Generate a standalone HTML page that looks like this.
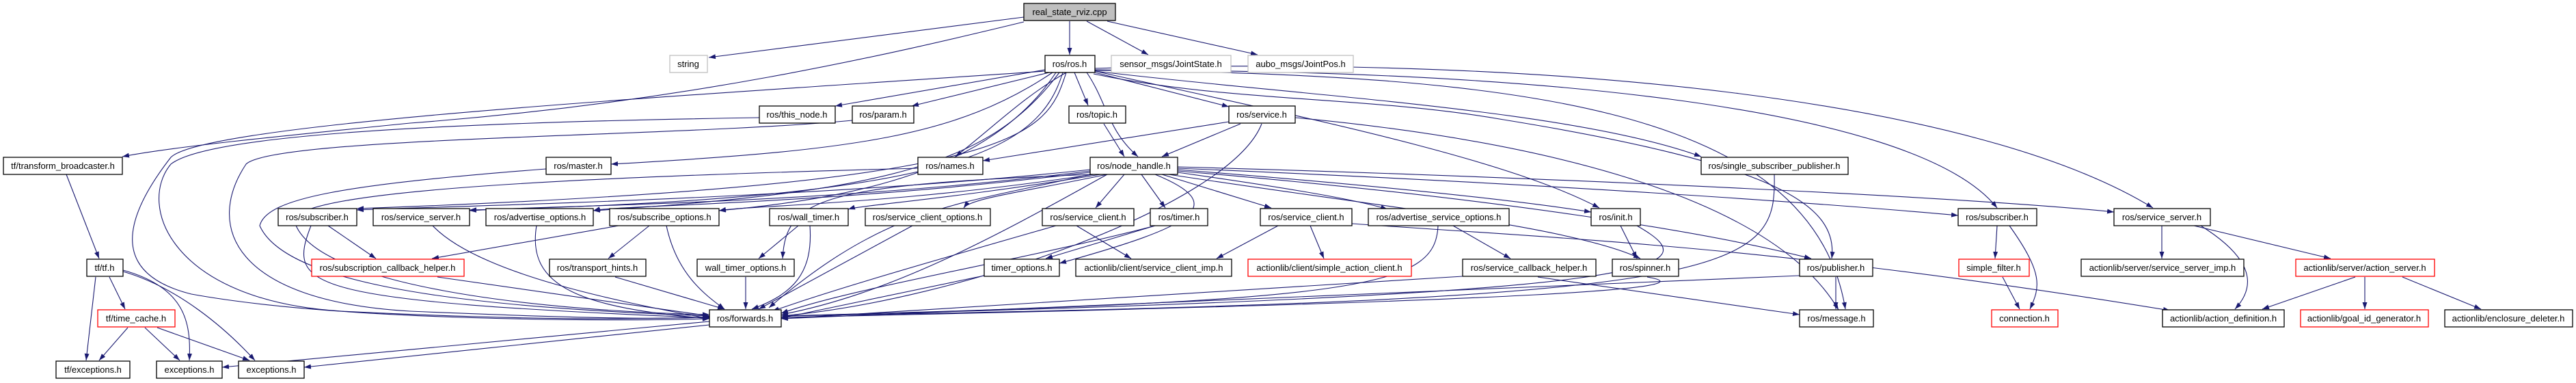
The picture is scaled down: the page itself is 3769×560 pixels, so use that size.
<!DOCTYPE html>
<html><head><meta charset="utf-8"><style>
html,body{margin:0;padding:0;background:#fff;}
svg{display:block;}
text{font-family:"Liberation Sans",Arial,sans-serif;font-size:13px;fill:#000;text-anchor:middle;}
.n{fill:#fff;stroke:#000;stroke-width:1.3;}
.g{fill:#fff;stroke:#bfbfbf;stroke-width:1.3;}
.r{fill:#fff;stroke:#ff0000;stroke-width:1.3;}
.e path,.e line{fill:none;stroke:#191970;stroke-width:1.1;marker-end:url(#a);}
</style></head><body>
<svg width="3769" height="560" viewBox="0 0 3769 560" xmlns="http://www.w3.org/2000/svg">
<defs><marker id="a" markerUnits="userSpaceOnUse" markerWidth="11" markerHeight="8" refX="10" refY="3.5" orient="auto"><path d="M0,0 L10,3.5 L0,7 z" fill="#191970"/></marker></defs>
<g class="e">
<!-- real_state -->
<line x1="1498" y1="25" x2="1037" y2="84"/>
<line x1="1565" y1="31" x2="1565" y2="80"/>
<line x1="1590" y1="31" x2="1680" y2="80"/>
<line x1="1620" y1="31" x2="1840" y2="80"/>
<path d="M1498,32 C1300,80 1000,150 600,180 C400,200 250,215 179,229"/>
<!-- ros.h -->
<line x1="1529" y1="102" x2="1222" y2="155"/>
<line x1="1535" y1="106" x2="1334" y2="155"/>
<line x1="1572" y1="106" x2="1592" y2="154"/>
<line x1="1602" y1="106" x2="1798" y2="156"/>
<path d="M1560,106 C1500,140 1460,180 1398,229"/>
<path d="M1590,106 C1620,150 1620,190 1665,229"/>
<path d="M1602,104 C1900,140 2300,160 2489,229"/>
<path d="M1600,108 C1800,150 2000,140 2200,175 C2600,240 2690,300 2680,378"/>
<path d="M1602,102 C2200,110 2650,150 2700,452"/>
<path d="M1602,103 C2200,100 2800,150 2922,304"/>
<path d="M1602,100 C2300,80 2900,150 3150,304"/>
<path d="M1602,104 C1900,170 2200,230 2340,304"/>
<path d="M1540,106 C1400,200 1250,220 894,240"/>
<path d="M1560,106 C1530,200 1500,270 522,305"/>
<path d="M1555,106 C1520,220 1400,290 687,307"/>
<path d="M1550,106 C1450,240 1300,280 868,308"/>
<path d="M1545,106 C1450,250 1250,290 1052,308"/>
<path d="M1529,104 C1000,140 300,180 250,230 C180,320 160,400 280,430 C500,470 900,470 1038,466"/>
<!-- row2 -->
<path d="M1111,172 C600,180 300,200 250,240 C200,300 250,440 500,455 C800,470 950,466 1038,464"/>
<path d="M1247,176 C1000,200 400,200 360,240 C300,330 340,440 600,455 C900,468 1000,466 1038,463"/>
<line x1="1615" y1="181" x2="1645" y2="229"/>
<line x1="1815" y1="181" x2="1700" y2="229"/>
<line x1="1798" y1="178" x2="1438" y2="235"/>
<path d="M1895,172 C2300,210 2600,300 2690,453"/>
<path d="M1846,181 C1800,300 1400,440 1143,462"/>
<!-- row3 -->
<line x1="97" y1="255" x2="145" y2="378"/>
<path d="M799,247 C500,270 390,290 380,330 C420,420 700,450 1038,462"/>
<path d="M1343,246 C800,260 450,280 430,320 C450,420 800,455 1038,460"/>
<path d="M2596,255 C2600,400 2550,440 1143,462"/>
<!-- node_handle -->
<path d="M1595,248 C1200,290 700,300 522,307"/>
<path d="M1595,250 C1200,300 800,300 687,308"/>
<path d="M1595,252 C1200,300 900,300 868,308"/>
<path d="M1600,255 C1300,300 1100,300 1052,308"/>
<path d="M1610,255 C1400,290 1260,300 1241,306"/>
<path d="M1620,255 C1500,280 1420,290 1410,304"/>
<line x1="1645" y1="255" x2="1603" y2="304"/>
<line x1="1670" y1="255" x2="1705" y2="304"/>
<line x1="1700" y1="255" x2="1860" y2="304"/>
<path d="M1723,252 C1850,270 1980,290 2030,306"/>
<path d="M1723,248 C2000,270 2200,290 2328,310"/>
<path d="M1723,246 C2300,270 2700,300 2865,315"/>
<path d="M1723,244 C2300,260 2900,290 3093,310"/>
<path d="M1710,255 C2000,300 2300,330 2400,378"/>
<path d="M1723,250 C2200,290 2500,340 2650,378"/>
<path d="M1690,255 C1800,300 1750,330 1550,385"/>
<path d="M1600,255 C1200,270 1150,290 1145,378"/>
<path d="M1620,255 C1450,350 1300,430 1143,460"/>
<path d="M1595,255 C1400,300 1300,300 1125,450"/>
<!-- row4 -->
<path d="M455,330 C420,420 440,440 1038,465"/>
<line x1="480" y1="330" x2="550" y2="378"/>
<path d="M633,330 C700,400 900,440 1038,466"/>
<path d="M785,330 C770,420 850,450 1038,466"/>
<line x1="905" y1="330" x2="632" y2="378"/>
<line x1="950" y1="330" x2="890" y2="378"/>
<path d="M975,330 C990,400 1030,430 1060,452"/>
<line x1="1168" y1="330" x2="1110" y2="378"/>
<path d="M1185,330 C1190,400 1160,430 1100,452"/>
<line x1="1335" y1="330" x2="1110" y2="452"/>
<path d="M1545,330 C1300,400 1200,430 1130,455"/>
<line x1="1575" y1="330" x2="1655" y2="378"/>
<line x1="1690" y1="330" x2="1530" y2="378"/>
<path d="M1690,330 C1500,380 1250,420 1143,458"/>
<line x1="1870" y1="330" x2="1780" y2="378"/>
<path d="M1978,327 C2300,350 2600,360 3175,454"/>
<line x1="1917" y1="330" x2="1937" y2="378"/>
<line x1="2126" y1="330" x2="2210" y2="378"/>
<path d="M2104,330 C2100,420 2000,440 1143,462"/>
<line x1="2371" y1="330" x2="2395" y2="378"/>
<path d="M2395,330 C2500,390 2480,430 1143,462"/>
<line x1="2922" y1="330" x2="2919" y2="378"/>
<path d="M2940,330 C2990,400 2985,420 2970,452"/>
<line x1="3163" y1="330" x2="3163" y2="378"/>
<line x1="3210" y1="330" x2="3410" y2="378"/>
<path d="M3220,330 C3300,380 3300,420 3270,452"/>
<!-- row5 -->
<line x1="140" y1="405" x2="126" y2="527"/>
<line x1="160" y1="405" x2="183" y2="452"/>
<path d="M180,395 C270,420 280,470 277,527"/>
<path d="M180,397 C260,420 330,480 373,527"/>
<line x1="187" y1="479" x2="145" y2="527"/>
<line x1="212" y1="479" x2="263" y2="527"/>
<line x1="230" y1="479" x2="365" y2="527"/>
<line x1="640" y1="405" x2="1038" y2="462"/>
<line x1="900" y1="405" x2="1060" y2="452"/>
<line x1="1091" y1="405" x2="1091" y2="452"/>
<line x1="1440" y1="403" x2="1143" y2="465"/>
<line x1="2140" y1="404" x2="1143" y2="466"/>
<line x1="2250" y1="405" x2="2633" y2="460"/>
<path d="M2410,405 C2500,420 2300,440 1143,464"/>
<line x1="2633" y1="403" x2="1143" y2="466"/>
<line x1="2686" y1="405" x2="2686" y2="452"/>
<line x1="2930" y1="405" x2="2955" y2="452"/>
<line x1="3446" y1="405" x2="3310" y2="452"/>
<line x1="3460" y1="405" x2="3460" y2="452"/>
<line x1="3515" y1="405" x2="3630" y2="452"/>
<!-- forwards -> exceptions -->
<line x1="1038" y1="470" x2="325" y2="537"/>
<line x1="1038" y1="475" x2="445" y2="537"/>
</g>
<!-- nodes -->
<rect class="n" x="1498" y="5" width="134" height="25" style="fill:#bfbfbf"/><text x="1565" y="22">real_state_rviz.cpp</text>
<rect class="g" x="980" y="81" width="55" height="25"/><text x="1007" y="98">string</text>
<rect class="n" x="1529" y="81" width="73" height="25"/><text x="1565" y="98">ros/ros.h</text>
<rect class="g" x="1626" y="81" width="175" height="25"/><text x="1713" y="98">sensor_msgs/JointState.h</text>
<rect class="g" x="1826" y="81" width="154" height="25"/><text x="1903" y="98">aubo_msgs/JointPos.h</text>
<rect class="n" x="1111" y="155" width="111" height="25"/><text x="1166" y="172">ros/this_node.h</text>
<rect class="n" x="1247" y="155" width="90" height="25"/><text x="1292" y="172">ros/param.h</text>
<rect class="n" x="1564" y="155" width="83" height="25"/><text x="1605" y="172">ros/topic.h</text>
<rect class="n" x="1798" y="155" width="97" height="25"/><text x="1846" y="172">ros/service.h</text>
<rect class="n" x="5" y="230" width="174" height="25"/><text x="92" y="247">tf/transform_broadcaster.h</text>
<rect class="n" x="799" y="230" width="95" height="25"/><text x="846" y="247">ros/master.h</text>
<rect class="n" x="1343" y="230" width="95" height="25"/><text x="1390" y="247">ros/names.h</text>
<rect class="n" x="1595" y="230" width="128" height="25"/><text x="1659" y="247">ros/node_handle.h</text>
<rect class="n" x="2489" y="230" width="215" height="25"/><text x="2596" y="247">ros/single_subscriber_publisher.h</text>
<rect class="n" x="407" y="305" width="115" height="25"/><text x="464" y="322">ros/subscriber.h</text>
<rect class="n" x="546" y="305" width="141" height="25"/><text x="616" y="322">ros/service_server.h</text>
<rect class="n" x="711" y="305" width="157" height="25"/><text x="790" y="322">ros/advertise_options.h</text>
<rect class="n" x="892" y="305" width="160" height="25"/><text x="972" y="322">ros/subscribe_options.h</text>
<rect class="n" x="1126" y="305" width="115" height="25"/><text x="1183" y="322">ros/wall_timer.h</text>
<rect class="n" x="1266" y="305" width="183" height="25"/><text x="1357" y="322">ros/service_client_options.h</text>
<rect class="n" x="1525" y="305" width="134" height="25"/><text x="1592" y="322">ros/service_client.h</text>
<rect class="n" x="1683" y="305" width="84" height="25"/><text x="1725" y="322">ros/timer.h</text>
<rect class="n" x="1844" y="305" width="134" height="25"/><text x="1911" y="322">ros/service_client.h</text>
<rect class="n" x="2002" y="305" width="206" height="25"/><text x="2105" y="322">ros/advertise_service_options.h</text>
<rect class="n" x="2328" y="305" width="72" height="25"/><text x="2364" y="322">ros/init.h</text>
<rect class="n" x="2865" y="305" width="115" height="25"/><text x="2922" y="322">ros/subscriber.h</text>
<rect class="n" x="3093" y="305" width="141" height="25"/><text x="3163" y="322">ros/service_server.h</text>
<rect class="n" x="127" y="379" width="53" height="25"/><text x="153" y="396">tf/tf.h</text>
<rect class="r" x="456" y="379" width="223" height="25"/><text x="567" y="396">ros/subscription_callback_helper.h</text>
<rect class="n" x="804" y="379" width="141" height="25"/><text x="874" y="396">ros/transport_hints.h</text>
<rect class="n" x="1020" y="379" width="142" height="25"/><text x="1091" y="396">wall_timer_options.h</text>
<rect class="n" x="1440" y="379" width="110" height="25"/><text x="1495" y="396">timer_options.h</text>
<rect class="n" x="1574" y="379" width="228" height="25"/><text x="1688" y="396">actionlib/client/service_client_imp.h</text>
<rect class="r" x="1826" y="379" width="239" height="25"/><text x="1945" y="396">actionlib/client/simple_action_client.h</text>
<rect class="n" x="2140" y="379" width="195" height="25"/><text x="2237" y="396">ros/service_callback_helper.h</text>
<rect class="n" x="2359" y="379" width="97" height="25"/><text x="2407" y="396">ros/spinner.h</text>
<rect class="n" x="2633" y="379" width="107" height="25"/><text x="2686" y="396">ros/publisher.h</text>
<rect class="r" x="2866" y="379" width="103" height="25"/><text x="2917" y="396">simple_filter.h</text>
<rect class="n" x="3045" y="379" width="238" height="25"/><text x="3164" y="396">actionlib/server/service_server_imp.h</text>
<rect class="r" x="3359" y="379" width="203" height="25"/><text x="3460" y="396">actionlib/server/action_server.h</text>
<rect class="r" x="143" y="453" width="113" height="25"/><text x="199" y="470">tf/time_cache.h</text>
<rect class="n" x="1038" y="453" width="105" height="25"/><text x="1090" y="470">ros/forwards.h</text>
<rect class="n" x="2633" y="453" width="108" height="25"/><text x="2687" y="470">ros/message.h</text>
<rect class="r" x="2914" y="453" width="97" height="25"/><text x="2962" y="470">connection.h</text>
<rect class="n" x="3164" y="453" width="178" height="25"/><text x="3253" y="470">actionlib/action_definition.h</text>
<rect class="r" x="3366" y="453" width="187" height="25"/><text x="3459" y="470">actionlib/goal_id_generator.h</text>
<rect class="n" x="3577" y="453" width="187" height="25"/><text x="3670" y="470">actionlib/enclosure_deleter.h</text>
<rect class="n" x="82" y="528" width="108" height="25"/><text x="136" y="545">tf/exceptions.h</text>
<rect class="n" x="229" y="528" width="96" height="25"/><text x="277" y="545">exceptions.h</text>
<rect class="n" x="349" y="528" width="96" height="25"/><text x="397" y="545">exceptions.h</text>
</svg>
</body></html>
